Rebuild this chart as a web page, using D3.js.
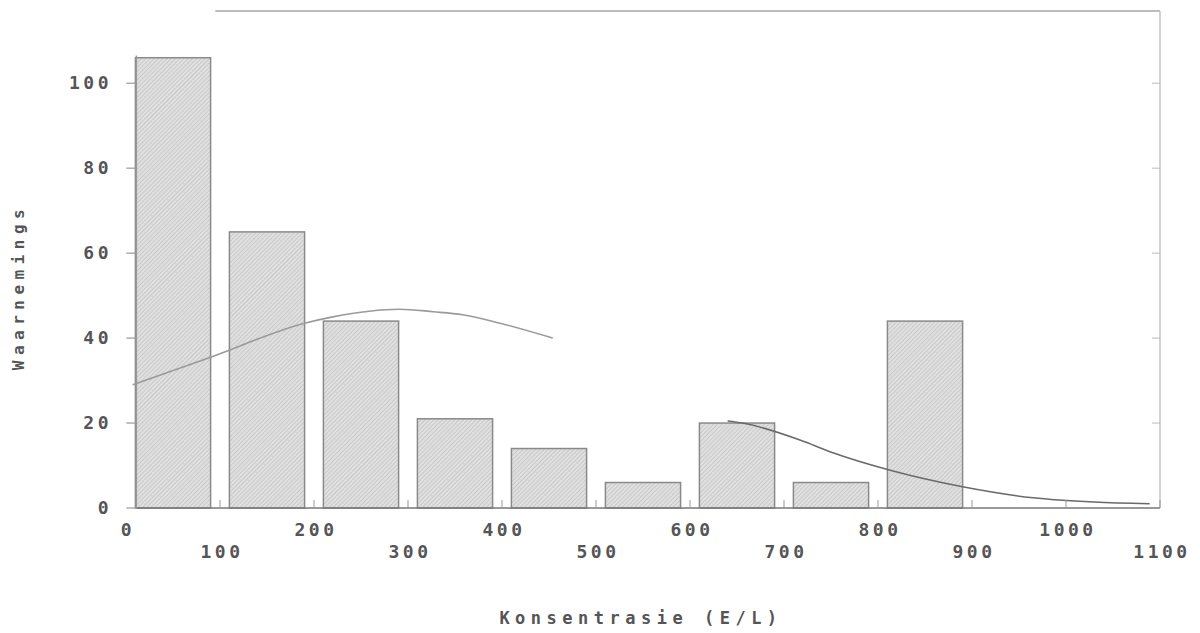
<!DOCTYPE html>
<html>
<head>
<meta charset="utf-8">
<script src="https://cdn.jsdelivr.net/npm/d3@7"></script>
<style>
  body { margin: 0; background: #fff; }
  svg { display: block; }
  .lbl { font-family: "DejaVu Sans Mono", monospace; font-weight: bold; fill: #555; }
</style>
</head>
<body>
<script>
// histogram bins (centres) and counts
var binCentres = [50, 150, 250, 350, 450, 550, 650, 750, 850];
var counts = [106, 65, 44, 21, 14, 6, 20, 6, 44];
var binWidth = 80;

// fitted curve (two visible pieces)
var curveLeftX = [7, 90, 190, 220, 291, 327, 358, 398, 454];
var curveLeftY = [29, 35.5, 43.5, 45, 46.8, 46.2, 45.5, 43.5, 40];
var curveRightX = [640, 656, 717, 752, 811, 890, 965, 1030, 1089];
var curveRightY = [20.5, 20, 16, 13, 9, 5, 2.4, 1.4, 1];

var xTicks = [0, 100, 200, 300, 400, 500, 600, 700, 800, 900, 1000, 1100];
var yTicks = [0, 20, 40, 60, 80, 100];

var w = 1200, h = 633;

var svg = d3.select("body").append("svg")
  .attr("width", w)
  .attr("height", h);

var x = d3.scaleLinear().domain([0, 1100]).range([126, 1160]);
var y = d3.scaleLinear().domain([0, 117]).range([508, 11]);

var defs = svg.append("defs");
var pat = defs.append("pattern")
  .attr("id", "hatch")
  .attr("patternUnits", "userSpaceOnUse")
  .attr("width", 3).attr("height", 3)
  .attr("patternTransform", "rotate(45)");
pat.append("rect").attr("width", 3).attr("height", 3).attr("fill", "#e0e0e0");
pat.append("line").attr("x1", 0).attr("y1", 0).attr("x2", 0).attr("y2", 3)
  .attr("stroke", "#bababa").attr("stroke-width", 1.2);

var x0 = 11; // where the y axis sits

// frame (top + right, faint)
svg.append("line")
  .attr("x1", x(95)).attr("x2", x(1100))
  .attr("y1", y(117)).attr("y2", y(117))
  .attr("stroke", "#bbb").attr("stroke-width", 2);
svg.append("line")
  .attr("x1", x(1100)).attr("x2", x(1100))
  .attr("y1", y(117)).attr("y2", y(0))
  .attr("stroke", "#c4c4c4").attr("stroke-width", 1.5);

// bars
svg.selectAll("rect.bar")
  .data(counts)
  .enter()
  .append("rect")
  .attr("class", "bar")
  .attr("x", function(d, i) { return x(binCentres[i] - binWidth / 2); })
  .attr("y", function(d) { return y(d); })
  .attr("width", function(d, i) { return x(binCentres[i] + binWidth / 2) - x(binCentres[i] - binWidth / 2); })
  .attr("height", function(d) { return y(0) - y(d); })
  .attr("fill", "url(#hatch)")
  .attr("stroke", "#8a8a8a")
  .attr("stroke-width", 1.5);

// curve
var line = d3.line()
  .x(function(d) { return x(d[0]); })
  .y(function(d) { return y(d[1]); })
  .curve(d3.curveMonotoneX);

svg.append("path")
  .datum(d3.zip(curveLeftX, curveLeftY))
  .attr("d", line)
  .attr("fill", "none")
  .attr("stroke", "#9a9a9a")
  .attr("stroke-width", 1.6);

svg.append("path")
  .datum(d3.zip(curveRightX, curveRightY))
  .attr("d", line)
  .attr("fill", "none")
  .attr("stroke", "#6a6a6a")
  .attr("stroke-width", 1.6);

// x axis
svg.append("line")
  .attr("x1", x(x0)).attr("x2", x(1100))
  .attr("y1", y(0)).attr("y2", y(0))
  .attr("stroke", "#777").attr("stroke-width", 1.5);
svg.selectAll("line.xt")
  .data(xTicks.filter(function(d) { return d > x0; }))
  .enter().append("line")
  .attr("class", "xt")
  .attr("x1", function(d) { return x(d); }).attr("x2", function(d) { return x(d); })
  .attr("y1", y(0)).attr("y2", y(0) - 8)
  .attr("stroke", "#999").attr("stroke-width", 1);

svg.selectAll("text.xl")
  .data(xTicks)
  .enter().append("text")
  .attr("class", "lbl")
  .attr("x", function(d) { return x(d) + 2; })
  .attr("y", function(d, i) { return i % 2 === 0 ? 536 : 558; })
  .attr("text-anchor", "middle")
  .style("font-size", "18px")
  .style("letter-spacing", "3.5px")
  .text(function(d) { return d; });

// y axis
svg.append("line")
  .attr("x1", x(x0)).attr("x2", x(x0))
  .attr("y1", y(0)).attr("y2", y(106.5))
  .attr("stroke", "#999").attr("stroke-width", 1.5);
svg.selectAll("line.yt")
  .data(yTicks)
  .enter().append("line")
  .attr("class", "yt")
  .attr("x1", x(x0) - 10).attr("x2", x(x0))
  .attr("y1", function(d) { return y(d); }).attr("y2", function(d) { return y(d); })
  .attr("stroke", "#999").attr("stroke-width", 1.2);
svg.selectAll("line.ytr")
  .data(yTicks.filter(function(d) { return d > 0; }))
  .enter().append("line")
  .attr("class", "ytr")
  .attr("x1", x(1100) - 8).attr("x2", x(1100))
  .attr("y1", function(d) { return y(d); }).attr("y2", function(d) { return y(d); })
  .attr("stroke", "#bbb").attr("stroke-width", 1);

svg.selectAll("text.yl")
  .data(yTicks)
  .enter().append("text")
  .attr("class", "lbl")
  .attr("x", 112)
  .attr("y", function(d) { return y(d) + 6; })
  .attr("text-anchor", "end")
  .style("font-size", "18px")
  .style("letter-spacing", "3.5px")
  .text(function(d) { return d; });

// titles
svg.append("text")
  .attr("class", "lbl")
  .attr("x", 641).attr("y", 624)
  .attr("text-anchor", "middle")
  .style("font-size", "17px")
  .style("letter-spacing", "5.5px")
  .text("Konsentrasie (E/L)");

svg.append("text")
  .attr("class", "lbl")
  .attr("transform", "translate(24,287) rotate(-90)")
  .attr("text-anchor", "middle")
  .style("font-size", "16px")
  .style("letter-spacing", "5.5px")
  .text("Waarnemings");
</script>
</body>
</html>
